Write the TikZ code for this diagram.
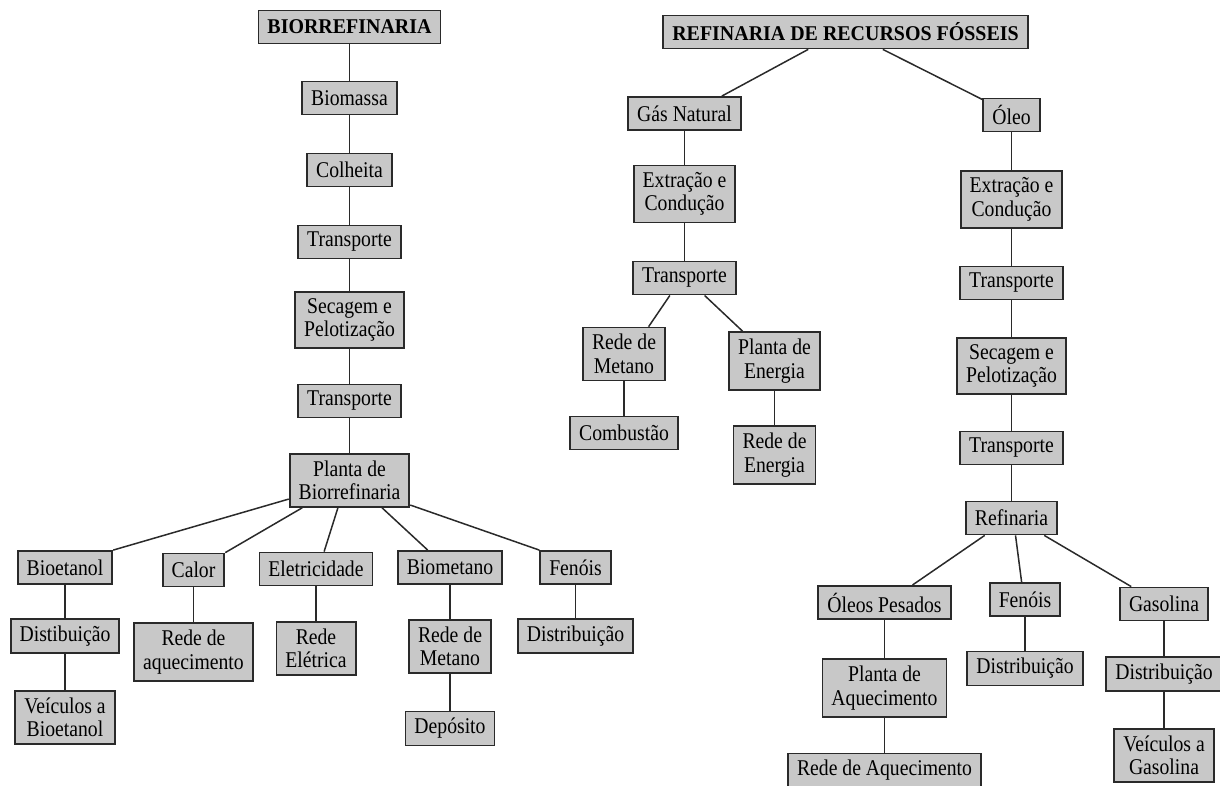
\documentclass[tikz,border=0pt]{standalone}
\usepackage{fontspec}
\setmainfont[FakeStretch=0.875]{Liberation Serif}
\newfontfamily\titlefont[FakeStretch=0.95]{Liberation Serif}
\definecolor{boxfill}{RGB}{200, 200, 200}
\definecolor{edge}{RGB}{42, 42, 42}
\tikzset{
  box/.style={draw=edge, fill=boxfill, line width=1.8pt, align=center,
    inner xsep=9pt, inner ysep=6.8pt, minimum height=33pt,
    font=\fontsize{22.5}{23.4}\selectfont},
  title/.style={box, font=\titlefont\fontsize{21}{24}\selectfont\bfseries},
  link/.style={draw=edge, line width=1.5pt}
}

\begin{document}
\begin{tikzpicture}[x=1pt, y=-1pt]
  \useasboundingbox (0, 0) rectangle (1220, 786);

  % biorrefinaria
  \node[title] (bio) at (349.5, 27) {BIORREFINARIA};
  \node[box] (biomassa) at (349.5, 98) {Biomassa};
  \node[box] (colheita) at (349.5, 170) {Colheita};
  \node[box] (transpA) at (349.5, 242) {Transporte};
  \node[box] (secagemA) at (349.5, 320) {Secagem e\\Pelotização};
  \node[box] (transpB) at (349.5, 401) {Transporte};
  \node[box] (plantaBio) at (349.5, 480.5) {Planta de\\Biorrefinaria};

  \node[box] (bioetanol) at (65, 567.5) {Bioetanol};
  \node[box] (calor) at (193.5, 570) {Calor};
  \node[box] (eletr) at (316, 569) {Eletricidade};
  \node[box] (biometano) at (450, 567.5) {Biometano};
  \node[box] (fenoisA) at (575.5, 567.5) {Fenóis};

  \node[box] (distA) at (65, 636) {Distibuição};
  \node[box] (veicA) at (65, 717.5) {Veículos a\\Bioetanol};
  \node[box] (aquec) at (193.5, 652) {Rede de\\aquecimento};
  \node[box] (eletrica) at (316, 648.5) {Rede\\Elétrica};
  \node[box] (metanoA) at (450, 646.5) {Rede de\\Metano};
  \node[box] (deposito) at (450, 728.5) {Depósito};
  \node[box] (distB) at (575.5, 636) {Distribuição};

  \draw[link] (bio) -- (biomassa) -- (colheita) -- (transpA) -- (secagemA)
    -- (transpB) -- (plantaBio);
  \draw[link] (plantaBio.197) -- (bioetanol.north east);
  \draw[link] (plantaBio.210) -- (calor.north east);
  \draw[link] (plantaBio.247) -- (eletr.65);
  \draw[link] (plantaBio.320) -- (biometano.142);
  \draw[link] (plantaBio.338) -- (fenoisA.north west);
  \draw[link] (bioetanol) -- (distA) -- (veicA);
  \draw[link] (calor) -- (aquec);
  \draw[link] (eletr) -- (eletrica);
  \draw[link] (biometano) -- (metanoA) -- (deposito);
  \draw[link] (fenoisA) -- (distB);

  % recursos fosseis
  \node[title] (fossil) at (845.5, 32) {REFINARIA DE RECURSOS FÓSSEIS};
  \node[box] (gas) at (684.5, 113.5) {Gás Natural};
  \node[box] (oleo) at (1011.5, 115) {Óleo};

  \node[box] (extrA) at (684.5, 194) {Extração e\\Condução};
  \node[box] (transpC) at (684.5, 278) {Transporte};
  \node[box] (metanoB) at (624, 354) {Rede de\\Metano};
  \node[box] (plantaEn) at (774.5, 361) {Planta de\\Energia};
  \node[box] (combust) at (624, 433) {Combustão};
  \node[box] (redeEn) at (774.5, 455) {Rede de\\Energia};

  \node[box] (extrB) at (1011.5, 199.5) {Extração e\\Condução};
  \node[box] (transpD) at (1011.5, 283) {Transporte};
  \node[box] (secagemB) at (1011.5, 366) {Secagem e\\Pelotização};
  \node[box] (transpE) at (1011.5, 448) {Transporte};
  \node[box] (refinaria) at (1011.5, 518) {Refinaria};
  \node[box] (pesados) at (884.5, 602.5) {Óleos Pesados};
  \node[box] (fenoisB) at (1025, 599.5) {Fenóis};
  \node[box] (gasolina) at (1164, 604) {Gasolina};
  \node[box] (plantaAq) at (884.5, 688) {Planta de\\Aquecimento};
  \node[box] (distC) at (1025, 668.5) {Distribuição};
  \node[box] (distD) at (1164, 674) {Distribuição};
  \node[box] (redeAq) at (884.5, 770.5) {Rede de Aquecimento};
  \node[box] (veicB) at (1164, 755.5) {Veículos a\\Gasolina};

  \draw[link] (fossil.205) -- (gas.25);
  \draw[link] (fossil.335) -- (oleo.152);
  \draw[link] (gas) -- (extrA) -- (transpC);
  \draw[link] (transpC.230) -- (metanoB.48);
  \draw[link] (transpC.319) -- (plantaEn.137);
  \draw[link] (metanoB) -- (combust);
  \draw[link] (plantaEn) -- (redeEn);
  \draw[link] (oleo) -- (extrB) -- (transpD) -- (secagemB) -- (transpE)
    -- (refinaria);
  \draw[link] (refinaria.213) -- (pesados.32);
  \draw[link] (refinaria.283) -- (fenoisB.101);
  \draw[link] (refinaria.332) -- (gasolina.152);
  \draw[link] (pesados) -- (plantaAq) -- (redeAq);
  \draw[link] (fenoisB) -- (distC);
  \draw[link] (gasolina) -- (distD) -- (veicB);
\end{tikzpicture}
\end{document}
